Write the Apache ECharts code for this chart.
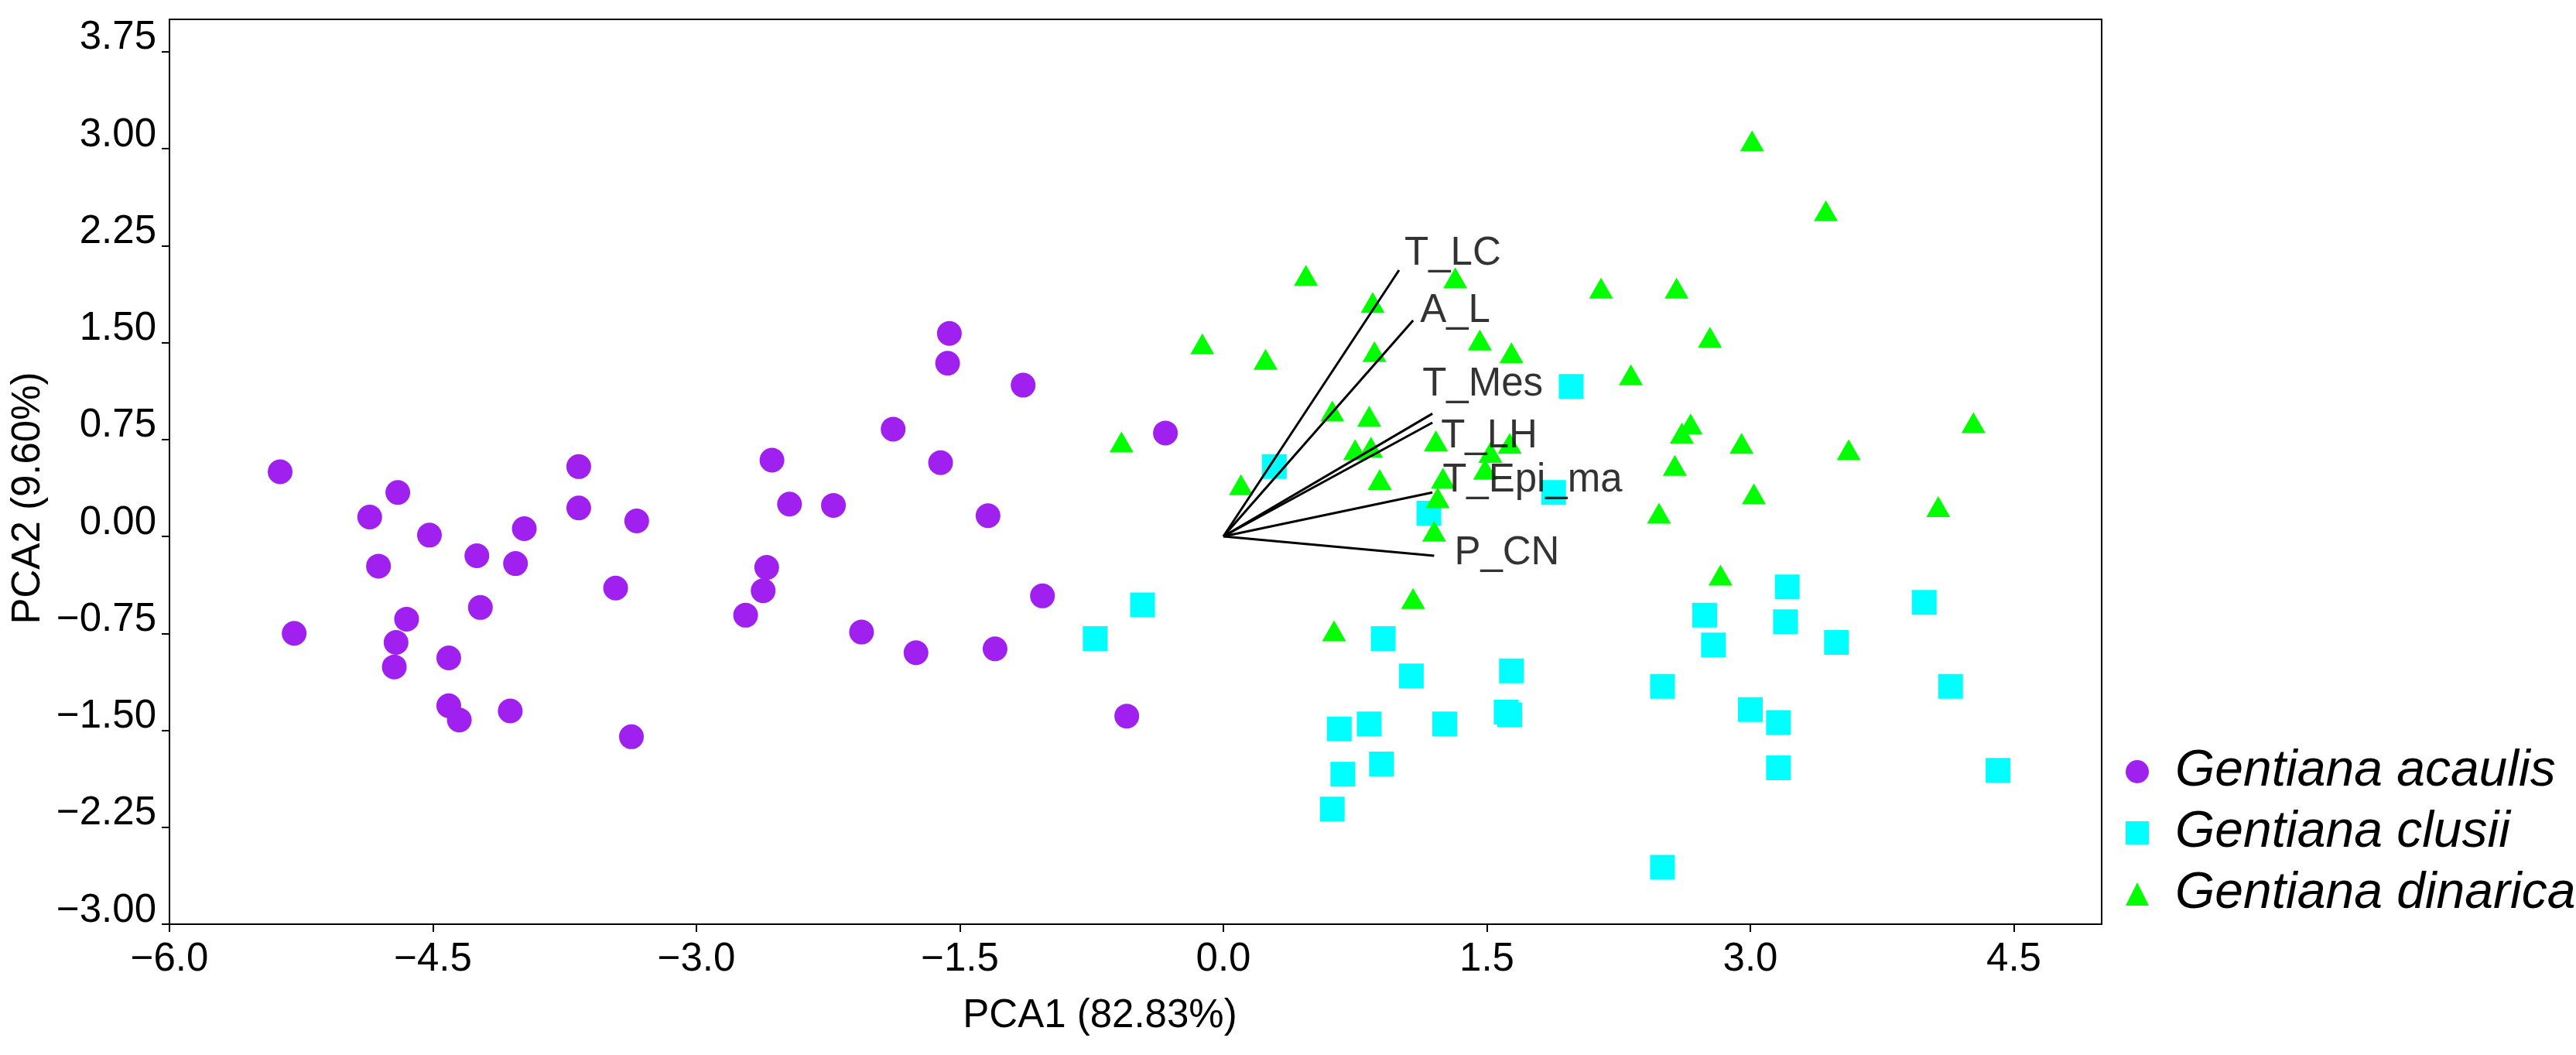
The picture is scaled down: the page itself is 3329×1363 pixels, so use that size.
<!DOCTYPE html>
<html>
<head>
<meta charset="utf-8">
<title>PCA Gentiana</title>
<script src="https://cdn.jsdelivr.net/npm/echarts@6/dist/echarts.min.js"></script>
<style>
  html, body { margin: 0; padding: 0; background: #fff; }
  #pca { width: 3329px; height: 1363px; }
</style>
</head>
<body>
<div id="pca"></div>
<script>
// PCA scores [PCA1, PCA2]
var acaulis = [
  [-5.37, 0.50], [-5.29, -0.75], [-4.86, 0.15], [-4.81, -0.23], [-4.70, 0.34],
  [-4.65, -0.64], [-4.71, -0.82], [-4.72, -1.01], [-4.52, 0.01], [-4.41, -0.94],
  [-4.41, -1.31], [-4.35, -1.42], [-4.25, -0.15], [-4.23, -0.55], [-3.98, 0.06],
  [-4.03, -0.21], [-4.06, -1.35], [-3.67, 0.54], [-3.67, 0.22], [-3.46, -0.40],
  [-3.37, -1.55], [-3.34, 0.12], [-2.72, -0.61], [-2.60, -0.24], [-2.62, -0.42],
  [-2.57, 0.59], [-2.47, 0.25], [-2.22, 0.24], [-2.06, -0.74], [-1.88, 0.83],
  [-1.75, -0.90], [-1.56, 1.57], [-1.57, 1.34], [-1.61, 0.57], [-1.34, 0.16],
  [-1.30, -0.87], [-1.14, 1.17], [-1.03, -0.46], [-0.55, -1.39], [-0.33, 0.80]
];
var clusii = [
  [-0.73, -0.79], [-0.46, -0.53], [0.29, 0.54], [0.91, -0.79], [0.66, -1.49],
  [0.68, -1.84], [0.62, -2.11], [0.83, -1.45], [0.90, -1.76], [1.07, -1.08],
  [1.17, 0.18], [1.26, -1.45], [1.61, -1.36], [1.63, -1.38], [1.64, -1.04],
  [1.88, 0.34], [1.98, 1.16], [2.50, -1.16], [2.50, -2.56], [2.74, -0.61],
  [2.79, -0.84], [3.00, -1.34], [3.21, -0.39], [3.20, -0.66], [3.16, -1.44],
  [3.16, -1.79], [3.49, -0.82], [3.99, -0.51], [4.14, -1.16], [4.41, -1.81]
];
var dinarica = [
  [-0.58, 0.73], [-0.12, 1.49], [0.10, 0.40], [0.24, 1.37], [0.47, 2.02],
  [0.62, 0.97], [0.63, -0.73], [0.75, 0.67], [0.84, 0.69], [0.83, 0.93],
  [0.85, 1.81], [0.86, 1.43], [0.89, 0.44], [1.08, -0.48], [1.20, 0.04],
  [1.22, 0.30], [1.21, 0.74], [1.25, 0.45], [1.32, 2.00], [1.46, 1.52],
  [1.49, 0.52], [1.52, 0.65], [1.63, 0.72], [1.64, 1.42], [2.15, 1.92],
  [2.32, 1.25], [2.48, 0.18], [2.58, 1.92], [2.57, 0.55], [2.61, 0.80],
  [2.66, 0.87], [2.77, 1.54], [2.83, -0.30], [2.95, 0.72], [3.01, 3.06],
  [3.02, 0.33], [3.43, 2.52], [3.56, 0.67], [4.07, 0.23], [4.27, 0.88]
];

// loading vectors drawn from the origin
var loadingNames = ['T_LC', 'A_L', 'T_Mes', 'T_LH', 'T_Epi_ma', 'P_CN'];
var loadingX = [1.00, 1.08, 1.19, 1.19, 1.19, 1.20];
var loadingY = [2.06, 1.67, 0.95, 0.88, 0.34, -0.15];

var xTicks = [-6.0, -4.5, -3.0, -1.5, 0.0, 1.5, 3.0, 4.5];
var yTicks = [-3.00, -2.25, -1.50, -0.75, 0.00, 0.75, 1.50, 2.25, 3.00, 3.75];

// pixel nudges for the vector labels
var labelNudge = [[7, -21], [9, -12], [-13, -37], [11, 18], [13, -15], [26, -3]];

var FONT = 'Liberation Sans, Arial, sans-serif';

function fmt(digits) {
  return function (v) {
    var s = Math.abs(v).toFixed(digits);
    return (v < -1e-9 ? '\u2212' : '') + s;
  };
}

var chart = echarts.init(document.getElementById('pca'), null, { renderer: 'canvas' });

var series = [
  {
    name: 'Gentiana acaulis', type: 'scatter', data: acaulis,
    symbol: 'circle', symbolSize: 32,
    itemStyle: { color: '#A020F0', opacity: 1 }, z: 2
  },
  {
    name: 'Gentiana clusii', type: 'scatter', data: clusii,
    symbol: 'rect', symbolSize: 32,
    itemStyle: { color: '#00FFFF', opacity: 1 }, z: 3
  },
  {
    name: 'Gentiana dinarica', type: 'scatter', data: dinarica,
    symbol: 'triangle', symbolSize: [31, 27],
    itemStyle: { color: '#00FF00', opacity: 1 }, z: 4
  }
];

loadingNames.forEach(function (n, i) {
  series.push({
    type: 'line', data: [[0, 0], [loadingX[i], loadingY[i]]],
    symbol: 'none', silent: true, z: 5,
    lineStyle: { color: '#000', width: 3 }
  });
});

series.push({
  type: 'scatter', symbolSize: 0, silent: true, z: 6,
  data: loadingNames.map(function (n, i) {
    return { name: n, value: [loadingX[i], loadingY[i]], label: { offset: labelNudge[i] } };
  }),
  label: {
    show: true, position: 'right', distance: 0, formatter: '{b}',
    fontSize: 51, fontFamily: FONT, color: '#000'
  }
});

var option = {
  animation: false,
  textStyle: { fontFamily: FONT },
  grid: {
    left: 219, right: 613, top: 25, bottom: 169,
    show: true, borderColor: '#000', borderWidth: 2
  },
  legend: {
    orient: 'vertical', left: 2742, top: 959,
    itemWidth: 30, itemHeight: 30, itemGap: 13,
    selectedMode: false,
    data: ['Gentiana acaulis', 'Gentiana clusii', 'Gentiana dinarica'],
    textStyle: {
      fontSize: 66, fontStyle: 'italic', fontFamily: FONT, color: '#000',
      lineHeight: 66, padding: [0, 0, 0, 29]
    }
  },
  xAxis: {
    type: 'value', min: -6, max: 5,
    name: 'PCA1 (82.83%)', nameLocation: 'middle', nameGap: 93,
    nameTextStyle: { fontSize: 51, color: '#000', fontFamily: FONT, padding: [0, 92, 0, 0] },
    axisLine: { show: true, onZero: false, lineStyle: { color: '#000', width: 2 } },
    axisTick: { show: true, length: 10, customValues: xTicks, lineStyle: { color: '#000', width: 2 } },
    axisLabel: {
      customValues: xTicks, formatter: fmt(1), fontSize: 51, lineHeight: 51,
      color: '#000', margin: 20, fontFamily: FONT
    },
    splitLine: { show: false }
  },
  yAxis: {
    type: 'value', min: -3, max: 4,
    name: 'PCA2 (9.60%)', nameLocation: 'middle', nameGap: 148, nameRotate: 90,
    nameTextStyle: { fontSize: 51, color: '#000', fontFamily: FONT, padding: [0, 68, 0, 0] },
    axisLine: { show: true, onZero: false, lineStyle: { color: '#000', width: 2 } },
    axisTick: { show: true, length: 10, customValues: yTicks, lineStyle: { color: '#000', width: 2 } },
    axisLabel: {
      customValues: yTicks, formatter: fmt(2), fontSize: 51, lineHeight: 35,
      verticalAlign: 'bottom', color: '#000', margin: 17, fontFamily: FONT
    },
    splitLine: { show: false }
  },
  series: series
};

chart.setOption(option);
</script>
</body>
</html>
